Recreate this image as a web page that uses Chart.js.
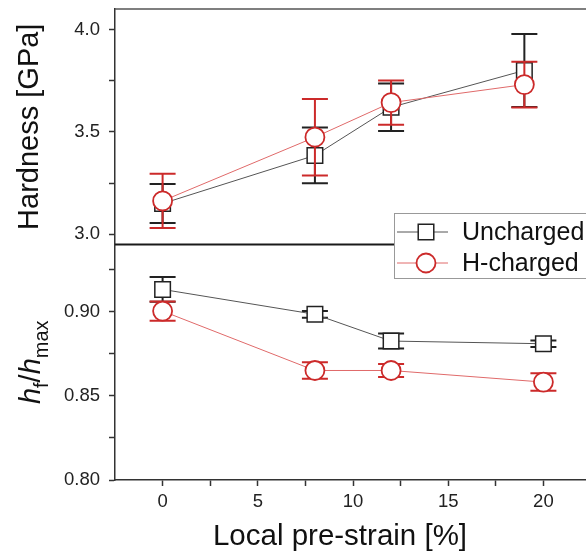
<!DOCTYPE html>
<html>
<head>
<meta charset="utf-8">
<script src="https://cdn.jsdelivr.net/npm/chart.js@4.4.1/dist/chart.umd.min.js"></script>
<style>
body { margin: 0; overflow: hidden; background: #fff; }
canvas { display: block; }
</style>
</head>
<body>
<canvas id="hardness-chart" width="600" height="553"></canvas>
<script>
const strainHard = [0, 8, 12, 19];
const strainRatio = [0, 8, 12, 20];
const hardUncharged = [3.15, 3.385, 3.62, 3.80];
const hardUnchargedErr = [0.095, 0.136, 0.116, 0.178];
const hardCharged = [3.163, 3.474, 3.643, 3.731];
const hardChargedErr = [0.133, 0.187, 0.108, 0.112];
const ratioUncharged = [0.9133, 0.8985, 0.8826, 0.881];
const ratioUnchargedErr = [0.0074, 0.002, 0.0045, 0.002];
const ratioCharged = [0.9004, 0.8651, 0.8651, 0.8582];
const ratioChargedErr = [0.0057, 0.0049, 0.0038, 0.0052];

const seriesNames = ['Uncharged', 'H-charged'];
const xTicks = [0, 2.5, 5, 7.5, 10, 12.5, 15, 17.5, 20];
const xLabels = [0, 5, 10, 15, 20];
const hardTicks = [3.0, 3.25, 3.5, 3.75, 4.0];
const hardLabels = [3.0, 3.5, 4.0];
const ratioTicks = [0.80, 0.825, 0.85, 0.875, 0.90, 0.925];
const ratioLabels = [0.80, 0.85, 0.90];
const xTitle = 'Local pre-strain [%]';

const FONT = "'Liberation Sans', Arial, sans-serif";
const BLACK = '#222';
const RED = '#cc2a2a';

function pairs(xs, ys) {
    return xs.map((x, i) => ({ x: x, y: ys[i] }))
}

function isLabel(list, v) {
    return list.some(l => Math.abs(l - v) < 1e-6)
}

(function () {
    'use strict'

    // error bars, drawn just before each dataset so the markers sit on top
    const errorBars = {
        id: 'errorBars',
        beforeDatasetDraw(chart, args) {
            const ds = chart.data.datasets[args.index];
            const yScale = chart.scales[ds.yAxisID];
            const ctx = chart.ctx;
            ctx.save();
            ctx.strokeStyle = ds.errColor;
            ctx.lineWidth = 2;
            args.meta.data.forEach((pt, j) => {
                const v = ds.data[j].y, e = ds.errors[j];
                const hi = yScale.getPixelForValue(v + e);
                const lo = yScale.getPixelForValue(v - e);
                ctx.beginPath();
                ctx.moveTo(pt.x, hi); ctx.lineTo(pt.x, lo);
                ctx.moveTo(pt.x - 13, hi); ctx.lineTo(pt.x + 13, hi);
                ctx.moveTo(pt.x - 13, lo); ctx.lineTo(pt.x + 13, lo);
                ctx.stroke();
            });
            ctx.restore();
        }
    };

    const frame = {
        id: 'frame',
        beforeDatasetsDraw(chart) {
            const { ctx, chartArea: a } = chart;
            const sep = chart.scales.yRatio.top;
            ctx.save();
            ctx.strokeStyle = '#555';
            ctx.lineWidth = 1.5;
            ctx.beginPath();
            ctx.moveTo(a.left, a.top); ctx.lineTo(a.right, a.top); ctx.lineTo(a.right, a.bottom);
            ctx.stroke();
            ctx.strokeStyle = '#1a1a1a';
            ctx.lineWidth = 2;
            ctx.beginPath();
            ctx.moveTo(a.left, sep); ctx.lineTo(a.right, sep);
            ctx.stroke();
            ctx.restore();
        }
    };

    // axis titles that the scale title can't place: h_f / h_max with subscripts,
    // and the x title sitting a little left of the plot centre
    const titles = {
        id: 'titles',
        afterDraw(chart) {
            const s = chart.scales.yRatio;
            const ctx = chart.ctx;
            const parts = [
                { t: 'h', font: 'italic 29px ' + FONT, dy: 0 },
                { t: 'f', font: '20px ' + FONT, dy: 8 },
                { t: '/', font: '29px ' + FONT, dy: 0 },
                { t: 'h', font: 'italic 29px ' + FONT, dy: 0 },
                { t: 'max', font: '20px ' + FONT, dy: 8 }
            ];
            ctx.save();
            let total = 0;
            parts.forEach(p => { ctx.font = p.font; p.w = ctx.measureText(p.t).width; total += p.w; });
            ctx.translate(40, (s.top + s.bottom) / 2);
            ctx.rotate(-Math.PI / 2);
            ctx.fillStyle = '#111';
            ctx.textBaseline = 'alphabetic';
            let x = -total / 2;
            parts.forEach(p => {
                ctx.font = p.font;
                ctx.fillText(p.t, x, p.dy);
                x += p.w;
            });
            ctx.restore();

            ctx.save();
            ctx.font = '29.5px ' + FONT;
            ctx.fillStyle = '#111';
            ctx.textAlign = 'center';
            ctx.textBaseline = 'alphabetic';
            ctx.fillText(xTitle, chart.chartArea.left + 225, 545);
            ctx.restore();
        }
    };

    const legendBox = {
        id: 'legendBox',
        afterDraw(chart) {
            const ctx = chart.ctx;
            const left = 394, top = 213;
            ctx.save();
            ctx.fillStyle = '#fff';
            ctx.fillRect(left, top, 230, 65);
            ctx.strokeStyle = '#999';
            ctx.lineWidth = 1;
            ctx.strokeRect(left + 0.5, top + 0.5, 230, 65);
            [0, 1].forEach(i => {
                const ds = chart.data.datasets[i];
                const y = top + 19 + i * 31;
                ctx.strokeStyle = ds.borderColor;
                ctx.lineWidth = 1;
                ctx.beginPath();
                ctx.moveTo(left + 3, y); ctx.lineTo(left + 54, y);
                ctx.stroke();
                ctx.fillStyle = '#fff';
                ctx.strokeStyle = ds.pointBorderColor;
                ctx.lineWidth = ds.pointBorderWidth;
                ctx.beginPath();
                if (ds.pointStyle === 'rect') {
                    const h = ds.pointRadius * Math.SQRT1_2;
                    ctx.rect(left + 32 - h, y - h, 2 * h, 2 * h);
                } else {
                    ctx.arc(left + 32, y, ds.pointRadius, 0, Math.PI * 2);
                }
                ctx.fill();
                ctx.stroke();
                ctx.fillStyle = '#111';
                ctx.font = '25px ' + FONT;
                ctx.textBaseline = 'middle';
                ctx.fillText(ds.label, left + 68, y + 1);
            });
            ctx.restore();
        }
    };

    const squareStyle = {
        borderColor: '#555',
        borderWidth: 1,
        pointStyle: 'rect',
        pointRadius: 11,
        pointBorderColor: BLACK,
        pointBorderWidth: 1.5,
        pointBackgroundColor: '#fff',
        errColor: BLACK,
        order: 1
    };
    const circleStyle = {
        borderColor: '#e06a6a',
        borderWidth: 1,
        pointStyle: 'circle',
        pointRadius: 9.5,
        pointBorderColor: RED,
        pointBorderWidth: 1.8,
        pointBackgroundColor: '#fff',
        errColor: RED,
        order: 0
    };

    const tickFont = { family: FONT, size: 18.5 };
    const axisGrid = {
        display: true,
        drawOnChartArea: false,
        drawTicks: true,
        tickLength: 6,
        tickWidth: 1.5,
        tickColor: '#333'
    };
    const axisBorder = { display: true, color: '#333', width: 1.5 };

    // fixed axis sizes, no extra label padding around the plot
    const fitY = s => { s.width = 115; s.paddingTop = 0; s.paddingBottom = 0 };
    const fitX = s => { s.height = 73; s.paddingLeft = 0; s.paddingRight = 0 };

    let canvas = document.getElementById("hardness-chart");
    let config = {
        type: "line",
        data: {
            datasets: [
                Object.assign({ label: seriesNames[0], data: pairs(strainHard, hardUncharged), errors: hardUnchargedErr, yAxisID: 'yHard' }, squareStyle),
                Object.assign({ label: seriesNames[1], data: pairs(strainHard, hardCharged), errors: hardChargedErr, yAxisID: 'yHard' }, circleStyle),
                Object.assign({ label: seriesNames[0], data: pairs(strainRatio, ratioUncharged), errors: ratioUnchargedErr, yAxisID: 'yRatio' }, squareStyle),
                Object.assign({ label: seriesNames[1], data: pairs(strainRatio, ratioCharged), errors: ratioChargedErr, yAxisID: 'yRatio' }, circleStyle)
            ]
        },
        options: {
            responsive: false,
            animation: false,
            devicePixelRatio: 1,
            layout: { autoPadding: false, padding: { left: 0, top: 9, right: 9, bottom: 0 } },
            plugins: {
                legend: { display: false },
                tooltip: { enabled: false }
            },
            scales: {
                x: {
                    type: 'linear',
                    min: -2.5,
                    max: 22.5,
                    afterFit: fitX,
                    afterBuildTicks: s => { s.ticks = xTicks.map(v => ({ value: v })) },
                    grid: axisGrid,
                    border: axisBorder,
                    ticks: {
                        font: tickFont,
                        color: '#222',
                        padding: 5,
                        maxRotation: 0,
                        autoSkip: false,
                        callback: v => isLabel(xLabels, v) ? String(v) : ''
                    }
                },
                yRatio: {
                    type: 'linear',
                    position: 'left',
                    stack: 'panels',
                    stackWeight: 1,
                    min: 0.80,
                    max: 0.94,
                    afterFit: fitY,
                    afterBuildTicks: s => { s.ticks = ratioTicks.map(v => ({ value: v })) },
                    grid: axisGrid,
                    border: axisBorder,
                    ticks: {
                        font: tickFont,
                        color: '#222',
                        padding: 9,
                        autoSkip: false,
                        callback: v => isLabel(ratioLabels, v) ? v.toFixed(2) : ''
                    }
                },
                yHard: {
                    type: 'linear',
                    position: 'left',
                    stack: 'panels',
                    stackWeight: 1,
                    min: 2.95,
                    max: 4.10,
                    afterFit: fitY,
                    afterBuildTicks: s => { s.ticks = hardTicks.map(v => ({ value: v })) },
                    grid: axisGrid,
                    border: axisBorder,
                    ticks: {
                        font: tickFont,
                        color: '#222',
                        padding: 9,
                        autoSkip: false,
                        callback: v => isLabel(hardLabels, v) ? v.toFixed(1) : ''
                    },
                    title: {
                        display: true,
                        text: 'Hardness [GPa]',
                        font: { family: FONT, size: 29 },
                        color: '#111',
                        padding: { top: 13, bottom: 0 }
                    }
                }
            }
        },
        plugins: [frame, errorBars, titles, legendBox]
    };

    let chart = new Chart(canvas, config);
})()
</script>
</body>
</html>
